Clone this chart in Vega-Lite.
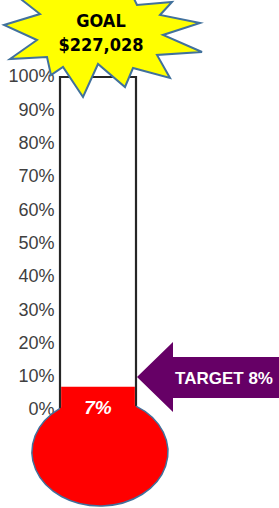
{
  "$schema": "https://vega.github.io/schema/vega-lite/v6.json",
  "autosize": "none",
  "width": 219,
  "height": 508,
  "padding": {"left": 60, "top": 0, "right": 0, "bottom": 0},
  "background": "white",
  "config": {
    "view": {"stroke": null},
    "axisY": {"domain": false, "ticks": false, "grid": false, "labelPadding": 6, "labelFont": "Liberation Sans", "labelFontSize": 18, "labelColor": "#404040"}
  },
  "data": {"values": [
    {"item": "Raised", "value": 0.07, "target": 0.08, "goal": 1, "goalTitle": "GOAL", "goalAmount": "$227,028", "targetLabel": "TARGET 8%"}
  ]},
  "encoding": {
    "x": {"field": "item", "type": "nominal", "axis": null, "scale": {"paddingInner": 0, "paddingOuter": 0.9408, "align": 0}}
  },
  "layer": [
    {
      "mark": {"type": "bar", "fill": "white", "stroke": "#262626", "strokeWidth": 2.2},
      "encoding": {
        "y": {"field": "goal", "type": "quantitative", "title": null, "scale": {"domain": [-0.2943, 1.2312], "nice": false, "zero": false},
              "axis": {"values": [0, 0.1, 0.2, 0.3, 0.4, 0.5, 0.6, 0.7, 0.8, 0.9, 1], "format": ".0%", "title": null}},
        "y2": {"datum": 0}
      }
    },
    {
      "mark": {"type": "point", "shape": "M-0.66,0.42A0.68,0.54 0 1 0 0.70,0.42A0.68,0.54 0 1 0 -0.66,0.42Z", "size": 40000, "filled": true, "fill": "#FF0000", "opacity": 1, "strokeWidth": 0},
      "encoding": {"y": {"datum": 0, "type": "quantitative", "title": null}}
    },
    {
      "mark": {"type": "bar", "fill": "#FF0000", "width": {"band": 0.97}},
      "encoding": {
        "y": {"field": "value", "type": "quantitative", "title": null},
        "y2": {"datum": 0}
      }
    },
    {
      "mark": {"type": "point", "shape": "M-0.38,-0.017A0.68,0.54 0 1 0 0.38,-0.038", "size": 40000, "filled": false, "fill": null, "stroke": "#41719C", "strokeWidth": 1.5, "opacity": 1},
      "encoding": {"y": {"datum": 0, "type": "quantitative", "title": null}}
    },
    {
      "mark": {"type": "point", "shape": "M0.39,-0.064L0.75,-0.414L0.75,-0.264L1.95,-0.264L1.95,0.146L0.75,0.146L0.75,0.286Z", "size": 40000, "filled": true, "fill": "#660066", "opacity": 1, "strokeWidth": 0},
      "encoding": {"y": {"field": "target", "type": "quantitative", "title": null}}
    },
    {
      "mark": {"type": "text", "dx": 126, "dy": -4, "align": "center", "baseline": "middle", "font": "Liberation Sans", "fontWeight": "bold", "fontSize": 17, "fill": "white"},
      "encoding": {
        "y": {"field": "target", "type": "quantitative", "title": null},
        "text": {"field": "targetLabel"}
      }
    },
    {
      "mark": {"type": "text", "dy": 21, "align": "center", "baseline": "middle", "font": "Liberation Sans", "fontWeight": "bold", "fontStyle": "italic", "fontSize": 19, "fill": "white"},
      "encoding": {
        "y": {"field": "value", "type": "quantitative", "title": null},
        "text": {"field": "value", "type": "quantitative", "format": ".0%"}
      }
    },
    {
      "mark": {"type": "point", "shape": "M-0.94,-0.91L-0.58,-0.63L-0.94,-0.52L-0.61,-0.37L-0.88,-0.18L-0.51,-0.20L-0.47,-0.02L-0.35,-0.10L-0.15,0.20L0.00,-0.13L0.27,0.10L0.35,-0.09L0.72,0.01L0.59,-0.22L1.04,-0.25L0.65,-0.42L1.02,-0.54L0.62,-0.62L0.74,-0.75L0.39,-0.72L0.27,-0.97L-0.08,-0.82L-0.43,-1.05L-0.68,-0.83Z", "size": 40000, "filled": true, "fill": "#FFFF00", "stroke": "#41719C", "strokeWidth": 2, "opacity": 1},
      "encoding": {"y": {"field": "goal", "type": "quantitative", "title": null}}
    },
    {
      "mark": {"type": "text", "dx": 3, "dy": -55, "align": "center", "baseline": "middle", "font": "DejaVu Sans Condensed, Liberation Sans Narrow, sans-serif", "fontWeight": "bold", "fontSize": 18, "fill": "black"},
      "encoding": {
        "y": {"field": "goal", "type": "quantitative", "title": null},
        "text": {"field": "goalTitle"}
      }
    },
    {
      "mark": {"type": "text", "dx": 3, "dy": -31, "align": "center", "baseline": "middle", "font": "DejaVu Sans Condensed, Liberation Sans Narrow, sans-serif", "fontWeight": "bold", "fontSize": 18, "fill": "black"},
      "encoding": {
        "y": {"field": "goal", "type": "quantitative", "title": null},
        "text": {"field": "goalAmount"}
      }
    }
  ]
}
